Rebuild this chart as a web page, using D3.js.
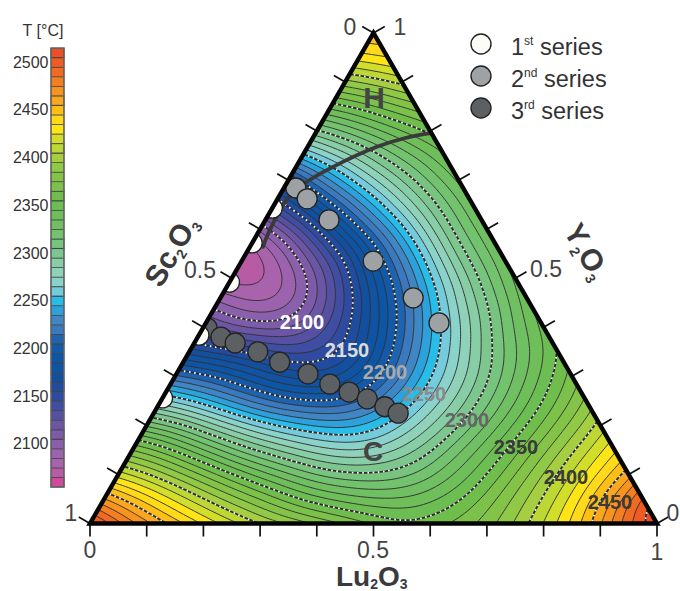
<!DOCTYPE html>
<html><head><meta charset="utf-8">
<style>html,body{margin:0;padding:0;background:#fff}svg{display:block}text{font-family:"Liberation Sans",Arial,sans-serif}</style>
<script src="https://cdn.jsdelivr.net/npm/d3@7"></script></head><body>
<svg id="c" width="680" height="591" viewBox="0 0 680 591"></svg>
<script>
// Temperature (deg C) read on a ternary lattice, step 0.05. Row index = Y2O3 fraction / 0.05,
// position in row = Lu2O3 fraction / 0.05.
const t00=[2505,2482,2462,2445,2428,2413,2399,2388,2378,2368,2358,2349,2355,2362,2374,2391,2410,2431,2458,2488,2512];
const t01=[2462,2445,2428,2410,2394,2379,2365,2347,2338,2330,2329,2333,2341,2353,2374,2392,2411,2438,2466,2498];
const t02=[2413,2402,2386,2370,2352,2335,2320,2308,2302,2301,2303,2312,2332,2349,2370,2391,2411,2432,2455];
const t03=[2372,2360,2340,2322,2303,2291,2280,2270,2266,2272,2288,2310,2329,2346,2367,2388,2409,2428];
const t04=[2320,2310,2289,2273,2257,2246,2236,2233,2240,2260,2278,2296,2320,2342,2362,2383,2403];
const t05=[2260,2248,2233,2218,2204,2199,2198,2205,2226,2250,2272,2295,2318,2339,2359,2381];
const t06=[2212,2204,2192,2178,2166,2160,2163,2190,2217,2248,2270,2297,2320,2344,2364];
const t07=[2164,2158,2153,2138,2131,2139,2160,2195,2226,2255,2282,2308,2329,2349];
const t08=[2123,2108,2102,2100,2118,2145,2173,2205,2237,2266,2296,2322,2342];
const t09=[2092,2078,2072,2090,2120,2153,2188,2222,2257,2287,2312,2337];
const t10=[2060,2056,2077,2105,2144,2179,2212,2247,2277,2310,2333];
const t11=[2052,2072,2105,2137,2168,2208,2240,2278,2313,2330];
const t12=[2090,2113,2149,2183,2216,2246,2280,2312,2328];
const t13=[2140,2169,2198,2227,2256,2284,2308,2328];
const t14=[2185,2217,2246,2270,2292,2312,2332];
const t15=[2252,2270,2284,2306,2322,2340];
const t16=[2297,2310,2327,2340,2352];
const t17=[2347,2355,2365,2375];
const t18=[2385,2392,2403];
const t19=[2430,2436];
const t20=[2452];
const tempRows=[t00,t01,t02,t03,t04,t05,t06,t07,t08,t09,t10,t11,t12,t13,t14,t15,t16,t17,t18,t19,t20];

// Series: [Lu2O3, Y2O3]
const series1=[[0,0.256],[0,0.384],[0,0.492],[0,0.572],[0,0.643]];
const series2=[[0.021,0.684],[0.052,0.662],[0.112,0.619],[0.232,0.535],[0.340,0.460],[0.411,0.409]];
const series3=[[0.007,0.399],[0.041,0.380],[0.072,0.368],[0.121,0.350],[0.170,0.329],[0.232,0.305],[0.281,0.284],[0.323,0.268],[0.362,0.254],[0.401,0.238],[0.431,0.225]];
const phaseBoundary=[[0.202,0.796],[0.163,0.786],[0.122,0.768],[0.065,0.727],[0.032,0.694],[0.017,0.660],[0.018,0.598],[0.023,0.564]];

const barLabels=[2500,2450,2400,2350,2300,2250,2200,2150,2100];
const bandLevels=d3.range(2050,2510,10);
const bandColors=["#D1499B","#B85BA5","#A863AC","#9D62AE","#8A5FAC","#7D5BA8","#6B56A6","#5650A3","#3F4DA2","#2F4B9F","#1F4C9F","#134F9F","#0F53A2","#0D55A5","#1459A8","#1D63AF","#3B79BF","#3F86C5","#2CA1DC","#27BDE8","#73CBDB","#8AD3CB","#8FD1B9","#87CDA5","#7DC78F","#76C47E","#73C36E","#70C063","#6EBF5A","#6CBD52","#6FBE4C","#7CC24A","#83C448","#90C945","#A5CF40","#BDD733","#D2DE2A","#FFE516","#FFDA1A","#FDBF16","#FBA61C","#F8931E","#F57F20","#F26A22","#F15A22","#EF4E24"];
const contourLabels=[[2100,"#ffffff",302,329],[2150,"#dcdcdc",347,357],[2200,"#ababab",385,379],[2250,"#8a8a8a",424,401],[2300,"#666666",467,427],[2350,"#3a3a3a",516,454],[2400,"#3a3a3a",566,484],[2450,"#3a3a3a",610,509]];
const axisTicks=d3.range(0,1.0001,0.1);

const svg=d3.select("#c");
const xs=d3.scaleLinear().domain([0,1]).range([90,657]);
const ys=d3.scaleLinear().domain([0,1]).range([523.5,33]);
const px=(lu,y)=>xs(lu+y/2), py=(lu,y)=>ys(y);

// Square matrix for d3.contours: values beyond the triangle are odd reflections (clipped away later).
const N=20,P=3;
const base=(j,k)=>{const r=tempRows[j],n=r.length-1;
  if(k<=n) return r[k];
  const m=2*n-k; return 2*r[n]-(m>=0?r[m]:r[0]+(r[0]-(r[1]===undefined?r[0]:r[1]))*(-m));};
const at=(j,k)=>{
  if(k<0) return 2*at(j,0)-at(j,-k);
  if(j<0) return 2*at(0,k)-at(-j,k);
  return base(Math.min(N,j),Math.min(N,k));
};
const f=8,W=(N+2*P)*f+1;
const cr=(a,b,c,d,t)=>0.5*((2*b)+(c-a)*t+(2*a-5*b+4*c-d)*t*t+(3*b-a-3*c+d)*t*t*t);
const fine=new Float64Array(W*W);
for(let y=0;y<W;y++){const j=Math.floor(y/f),tj=y/f-j;
  for(let x=0;x<W;x++){const k=Math.floor(x/f),tk=x/f-k;
    const J=j-P,K=k-P;
    const rowv=[-1,0,1,2].map(d=>cr(at(J+d,K-1),at(J+d,K),at(J+d,K+1),at(J+d,K+2),tk));
    fine[y*W+x]=cr(rowv[0],rowv[1],rowv[2],rowv[3],tj);
}}
d3.blur2({data:fine,width:W,height:W},5);
const proj=d3.geoTransform({point(x,y){const lu=((x-0.5)/f-P)/N,yy=((y-0.5)/f-P)/N;this.stream.point(px(lu,yy),py(lu,yy));}});
const path=d3.geoPath(proj);
const contours=d3.contours().size([W,W]).smooth(true).thresholds(bandLevels)(fine);

const triPts=[[0,0],[1,0],[0,1]].map(d=>[px(d[0],d[1]),py(d[0],d[1])]);
svg.append("clipPath").attr("id","tri").append("polygon").attr("points",triPts.join(" "));

const g=svg.append("g").attr("clip-path","url(#tri)");
g.append("polygon").attr("points",triPts.join(" ")).attr("fill",bandColors[0]);
g.selectAll("path.b").data(contours).join("path").attr("class","b").attr("d",path)
  .attr("fill",(d,i)=>bandColors[i]).attr("stroke","none");
const plain=contours.filter(c=>c.value%50!==0&&c.value>2050);
const major=contours.filter(c=>c.value%50===0&&c.value>2050);
g.selectAll("path.l").data(plain).join("path").attr("class","l").attr("d",path)
  .attr("fill","none").attr("stroke","#333").attr("stroke-width",0.95);
g.selectAll("path.m").data(major).join("path").attr("class","m").attr("d",path)
  .attr("fill","none").attr("stroke","#2b2b2b").attr("stroke-width",1.8);
g.selectAll("path.w").data(major).join("path").attr("class","w").attr("d",path)
  .attr("fill","none").attr("stroke","#fff").attr("stroke-width",1.8).attr("stroke-dasharray","1.6 3.6");

// phase boundary
const line=d3.line().x(d=>px(d[0],d[1])).y(d=>py(d[0],d[1])).curve(d3.curveCatmullRom);
g.append("path").attr("d",line(phaseBoundary)).attr("fill","none").attr("stroke","#3a3a3c").attr("stroke-width",3.8).attr("stroke-linecap","round");

// series
function dots(parent,data,fill){parent.selectAll(null).data(data).join("circle")
  .attr("cx",d=>px(d[0],d[1])).attr("cy",d=>py(d[0],d[1])).attr("r",10)
  .attr("fill",fill).attr("stroke","#222").attr("stroke-width",1.3);}
dots(g,series3,"#5d6062");
dots(g,series1,"#fdfdf8");
dots(g,series2,"#9ea2a4");

// triangle and ticks
const tk=svg.append("g").attr("stroke","#111").attr("stroke-width",1.7);
const tl=13,c30=Math.cos(Math.PI/6)*tl,s30=tl/2;
axisTicks.forEach(t=>{
  tk.append("line").attr("x1",px(t,0)).attr("y1",py(t,0)).attr("x2",px(t,0)).attr("y2",py(t,0)+tl);
  tk.append("line").attr("x1",px(0,t)).attr("y1",py(0,t)).attr("x2",px(0,t)-c30).attr("y2",py(0,t)-s30);
  tk.append("line").attr("x1",px(1-t,t)).attr("y1",py(1-t,t)).attr("x2",px(1-t,t)+c30).attr("y2",py(1-t,t)-s30);
});
svg.append("polygon").attr("points",triPts.join(" ")).attr("fill","none").attr("stroke","#050505").attr("stroke-width",4.4).attr("stroke-linejoin","miter");

// tick labels
const tickText=[["0",350,35],["1",400,35],["0.5",200,278],["1",71,521],["0",90,558],["0.5",373,558],["1",657,560],["0.5",546,277],["0",673,521]];
svg.selectAll("text.t").data(tickText).join("text").attr("class","t").attr("x",d=>d[1]).attr("y",d=>d[2])
  .attr("text-anchor","middle").attr("font-size",23).attr("fill","#444").text(d=>d[0]);

// compound labels
function compound(x,y,rot,a,fs,sh){
  const t=svg.append("text").attr("transform",`translate(${x},${y}) rotate(${rot})`).attr("font-size",fs).attr("font-weight","bold").attr("fill","#3a3a3c");
  t.append("tspan").text(a);
  t.append("tspan").attr("font-size",14).attr("dy",sh).text("2");
  t.append("tspan").attr("dy",-sh).text("O");
  t.append("tspan").attr("font-size",14).attr("dy",sh).text("3");
}
compound(336,585.5,0,"Lu",28,3.5);
compound(161,289,-60,"Sc",30,5);
compound(563,231,60,"Y",30,5);

// contour labels, phases
svg.selectAll("text.cl").data(contourLabels).join("text").attr("class","cl").attr("x",d=>d[2]).attr("y",d=>d[3])
  .attr("text-anchor","middle").attr("font-size",20).attr("font-weight","bold").attr("fill",d=>d[1]).text(d=>d[0]);
svg.append("text").attr("x",374).attr("y",108).attr("text-anchor","middle").attr("font-size",30).attr("font-weight","bold").attr("fill","#444").text("H");
svg.append("text").attr("x",373).attr("y",461).attr("text-anchor","middle").attr("font-size",28).attr("font-weight","bold").attr("fill","#444").text("C");

// colour bar
const barY=d3.scaleLinear().domain([2500,2450]).range([57.7,105.4]);
const bar=svg.append("g");
bar.selectAll("rect").data(bandLevels).join("rect").attr("x",51).attr("width",13)
  .attr("y",d=>barY(d+10)).attr("height",d=>barY(d)-barY(d+10))
  .attr("fill",(d,i)=>bandColors[i]).attr("stroke","#444").attr("stroke-width",d=>d%50===0?1.1:0.7);
bar.append("rect").attr("x",51).attr("width",13).attr("y",barY(2510)).attr("height",barY(2050)-barY(2510)).attr("fill","none").attr("stroke","#666").attr("stroke-width",1.4);
svg.selectAll("text.bl").data(barLabels).join("text").attr("class","bl").attr("x",48.5).attr("y",d=>barY(d)+10)
  .attr("text-anchor","end").attr("font-size",16).attr("fill","#333").text(d=>d);
svg.append("text").attr("x",43).attr("y",36).attr("text-anchor","middle").attr("font-size",16).attr("fill","#333").text("T [°C]");

// legend
const legend=[["1","st","#fdfdf8"],["2","nd","#9ea2a4"],["3","rd","#5d6062"]];
const legY=d3.scaleLinear().domain([0,2]).range([44,108]);
legend.forEach((d,i)=>{
  svg.append("circle").attr("cx",481).attr("cy",legY(i)).attr("r",10).attr("fill",d[2]).attr("stroke","#222").attr("stroke-width",1.4);
  const t=svg.append("text").attr("x",511).attr("y",legY(i)+10.5).attr("font-size",23.5).attr("fill","#333");
  t.append("tspan").text(d[0]);
  t.append("tspan").attr("font-size",12).attr("dy",-10).text(d[1]);
  t.append("tspan").attr("dy",10).text(" series");
});
</script></body></html>
